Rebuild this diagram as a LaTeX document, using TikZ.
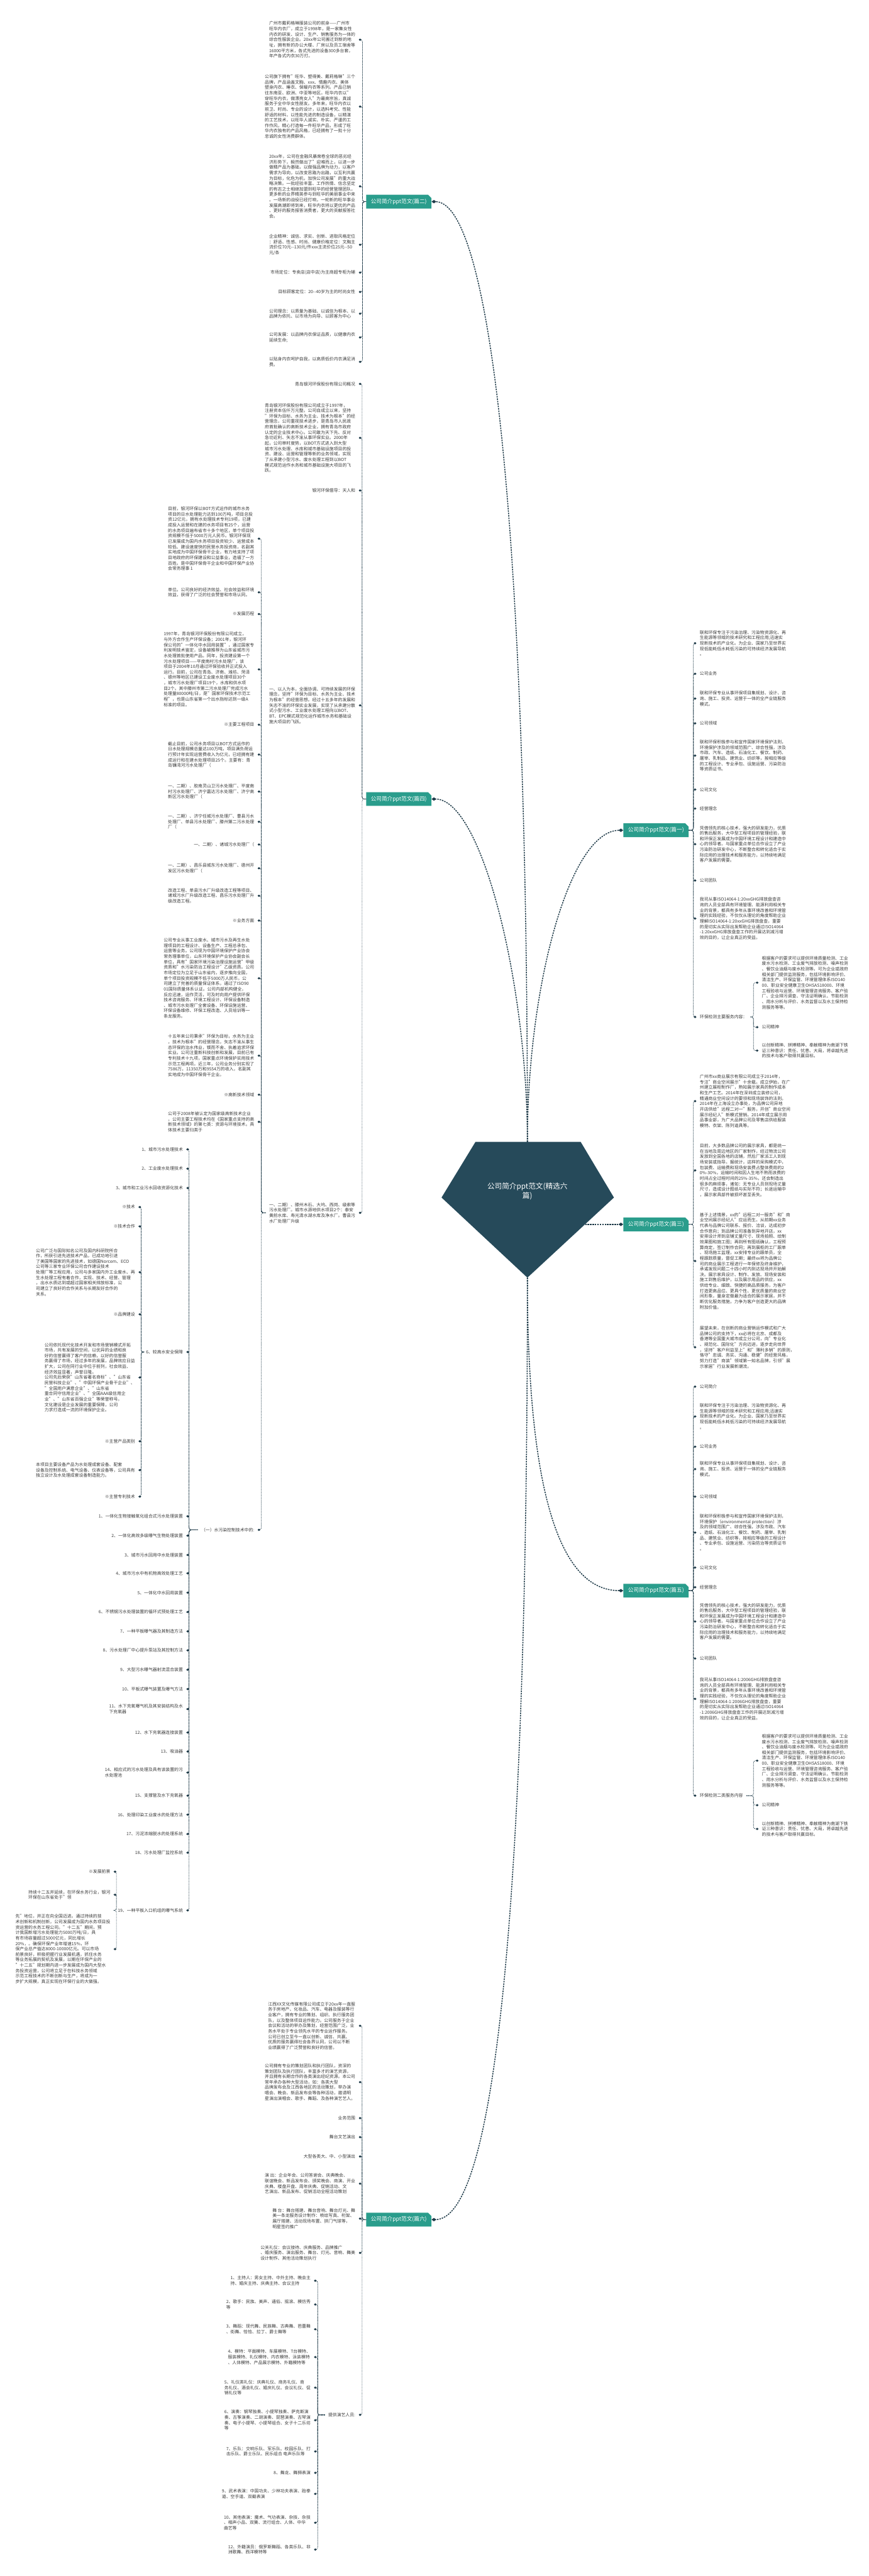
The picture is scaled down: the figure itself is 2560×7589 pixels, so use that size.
\documentclass[tikz,border=0pt]{standalone}
\usepackage{fontspec}
\setmainfont{Noto Sans CJK SC}
\usetikzlibrary{arrows.meta,shapes.misc}
\definecolor{hubfill}{HTML}{264A5A}
\definecolor{teal}{HTML}{2A9D8C}
\definecolor{wire}{HTML}{1E3A48}
\definecolor{ink}{HTML}{3A3A3A}
\tikzset{
  leaf/.style={inner sep=0pt, outer xsep=5pt, align=left, text=ink, font=\fontsize{6.35pt}{8pt}\selectfont},
  leafL/.style={leaf, anchor=east},
  leafR/.style={leaf, anchor=west},
  branch/.style={chamfered rectangle, chamfered rectangle corners=north east, chamfered rectangle xsep=2.5pt, chamfered rectangle ysep=2.5pt, fill=teal, text=white, inner xsep=4.5pt, minimum height=12pt, font=\fontsize{8pt}{9pt}\selectfont},
  hubtext/.style={align=center, text=white, font=\fontsize{10.8pt}{14pt}\selectfont},
  limb/.style={draw=wire, line width=1.4pt, dash pattern=on 2.2pt off 1.4pt, -{Diamond[length=7pt,width=5pt]}},
  twig/.style={draw=wire, line width=0.6pt, dash pattern=on 1.4pt off 0.9pt, rounded corners=3pt, -{Diamond[length=4pt,width=3.4pt]}}
}
\begin{document}
\begin{tikzpicture}[x=0.5pt,y=-0.5pt]
\useasboundingbox (0,0) rectangle (2560,7589);

% centre
\fill[hubfill] (1401,3364) -- (1711,3364) -- (1809,3528) -- (1554,3764) -- (1301,3528) -- cycle;
\node[hubtext] (hub) at (1554,3510) {公司简介ppt范文(精选六\\篇)};
\coordinate (hubN) at (1554,3364);
\coordinate (hubS) at (1554,3764);
\coordinate (hubE) at (1724,3607);

\node[branch] (p2) at (1175,594) {公司简介ppt范文(篇二)};
\node[branch] (p4) at (1175,2354) {公司简介ppt范文(篇四)};
\node[branch] (p1) at (1933,2446) {公司简介ppt范文(篇一)};
\node[branch] (p3) at (1933,3607) {公司简介ppt范文(篇三)};
\node[branch] (p5) at (1933,4686) {公司简介ppt范文(篇五)};
\node[branch] (p6) at (1175,6539) {公司简介ppt范文(篇六)};

\draw[limb] (hubN) .. controls (1554,1500) and (1440,594) .. (p2.east);
\draw[limb] (hubN) .. controls (1554,2900) and (1420,2354) .. (p4.east);
\draw[limb] (hubN) .. controls (1554,2900) and (1680,2446) .. (p1.west);
\draw[limb] (hubE) -- (p3.west);
\draw[limb] (hubS) .. controls (1554,4400) and (1650,4686) .. (p5.west);
\draw[limb] (hubS) .. controls (1554,5600) and (1460,6539) .. (p6.east);

% 篇二
\coordinate (s2) at (1068,594);
\node[leafL] (p2a) at (1057,117) {广州市戴莉格琳服装公司的前身——广州市\\旺华内衣厂，成立于1998年，是一家集女性\\内衣的研发、设计、生产、销售服务为一体的\\综合性服装企业。20xx年公司搬迁到新的地\\址，拥有新的办公大楼、厂房以及员工宿舍等\\16000平方米，各式先进的设备300多台套，\\年产各式内衣30万打。};
\node[leafL] (p2b) at (1057,314) {公司旗下拥有"旺华、塑得美、戴莉格琳"三个\\品牌，产品涵盖文胸、xxx、情趣内衣、美体\\塑身内衣、睡衣、保暖内衣等系列。产品已销\\往东南亚、欧洲、中亚等地区。旺华内衣以"\\穿旺华内衣，做漂亮女人"为最高宗旨，真诚\\服务于全中华女性朋友。多年来，旺华内衣以\\前卫、时尚、专业的设计，以选料考究、性能\\舒适的材料，以性能先进的制造设备，以精湛\\的工艺技术，以旺华人诚实、朴实、严谨的工\\作作风，精心打造每一件旺华产品，形成了旺\\华内衣独有的产品风格，已经拥有了一批十分\\忠诚的女性消费群体。};
\node[leafL] (p2c) at (1057,549) {20xx年，公司在金融风暴席卷全球的恶劣经\\济形势下，毅然做出了"迎难而上，以进一步\\做精产品为基础，以做强品牌为动力，以客户\\需求为导向，以改变思路为出路，以互利共赢\\为目标，化危为机，加快公司发展"的重大战\\略决策。一批经验丰富、工作热情、信念坚定\\的有志之士相继加盟到旺华的经营管理团队，\\更多新的业界精英参与到旺华的美丽事业中来\\。一场新的战役已经打响，一轮新的旺华事业\\发展高潮即将到来，旺华内衣将以更优的产品\\、更好的服务报答消费者，更大的贡献报答社\\会。};
\node[leafL] (p2d) at (1057,721) {企业精神：诚信、求实、创新、进取风格定位\\：舒适、性感、时尚、健康价格定位：文胸主\\流价位70元-{}-130元/件xxx主流价位25元-{}-50\\元/条};
\node[leafL] (p2e) at (1057,803) {市场定位：专卖店(店中店)为主商超专柜为辅};
\node[leafL] (p2f) at (1057,860) {目标顾客定位：20-{}-40岁为主的时尚女性};
\node[leafL] (p2g) at (1057,924) {公司理念：以质量为基础、以诚信为根本、以\\品牌为依托、以市场为向导、以顾客为中心};
\node[leafL] (p2h) at (1057,994) {公司发展：以品牌内衣保证品质，以健康内衣\\延续生命;};
\node[leafL] (p2i) at (1057,1066) {以贴身内衣呵护自我，以高质低价内衣满足消\\费。};
\foreach \c in {p2a,p2b,p2c,p2d,p2e,p2f,p2g,p2h,p2i}
  \draw[twig] (p2.west) -- (s2) |- (\c.east);

% 篇四
\coordinate (s4) at (1067,2354);
\node[leafL] (p4a) at (1057,1131) {青岛银河环保股份有限公司概况};
\node[leafL] (p4b) at (1057,1290) {青岛银河环保股份有限公司成立于1997年，\\注册资本伍仟万元整。公司自成立以来，坚持\\"环保为目标、水务为主业、技术为根本"的经\\营理念，公司重视技术进步，是青岛市人民政\\府首批确认的高新技术企业，拥有青岛市政府\\认定的企业技术中心。公司敢为天下先、反对\\急功近利、矢志不渝从事环保实业。2000年\\起，公司审时度势，以BOT方式进入到大型\\城市污水处理、水库和城市基础设施项目的投\\资、建设、运营和管理等新的业务领域，实现\\了从承建小型污水、废水处理工程到以BOT\\模式规范运作水务和城市基础设施大项目的飞\\跃。};
\node[leafL] (p4c) at (1057,1445) {银河环保倡导：天人和};
\node[leafL] (p4d) at (1057,2078) {一、以人为本，全面协调、可持续发展的环保\\理念，坚持"环保为目标、水务为主业、技术\\为根本"的经营思想。经过十五多年的发展和\\矢志不渝的环保实业发展，实现了从承建分散\\式小型污水、工业废水处理工程向以BOT、\\BT、EPC模式规范化运作城市水务和基础设\\施大项目的飞跃。};
\node[leafL] (p4e) at (1057,3573) {一、二期）、滕州木石、大坞、西岗、级索等\\污水处理厂。城市水源地供水项目2个：泰安\\黄前水库、寿光清水湖水库及净水厂。曹县污\\水厂处理厂升级};
\foreach \c in {p4a,p4b,p4c,p4d,p4e}
  \draw[twig] (p4.west) -- (s4) |- (\c.east);

\coordinate (s4e) at (770,3573);
\node[leafL] (q1) at (759,1587) {目前，银河环保以BOT方式运作的城市水务\\项目的日水处理能力达到100万吨，项目总投\\资12亿元，拥有水处理技术专利19项，已建\\成投入运营和在建的水务项目有25个，运营\\的水务项目遍布省市十多个地区，单个项目投\\资规模不低于5000万元人民币。银河环保现\\已发展成为国内水务项目投资较少、运营成本\\较低、建设速度快的民营水务投资商，名副其\\实地成为中国环保骨干企业，有力地支持了项\\目地政府的环保建设和公益事业，造福了一方\\百姓。是中国环保骨干企业和中国环保产业协\\会常务理事 1};
\node[leafL] (q2) at (759,1745) {单位。公司良好的经济效益、社会效益和环境\\效益，获得了广泛的社会赞誉和市场认同。};
\node[leafL] (q3) at (759,1809) {※发展历程};
\node[leafL] (q4) at (759,1972) {1997年，青岛银河环保股份有限公司成立，\\与外方合作生产环保设备；2001年，银河环\\保公司的"一体化中水回用装置"，通过国家专\\利发明技术鉴定，设备被推荐为山东省城市污\\水处理首批使用产品。同年，投资建设第一个\\污水处理项目——平度南村污水处理厂，该\\项目于2004年10月通过环保验收并正式投入\\运行。目前，公司在青岛、济南、潍坊、菏泽\\、德州等地区已建设工业废水处理项目30个\\，城市污水处理厂项目19个，水库和供水项\\目2个。其中滕州市第二污水处理厂完成污水\\处理量80000吨/日，是"国家环保技术示范工\\程"，也是山东省第一个出水指标达到一级A\\标准的项目。};
\node[leafL] (q5) at (759,2135) {※主要工程项目};
\node[leafL] (q6) at (759,2223) {截止目前，公司水务项目以BOT方式运作的\\日水处理规模总量达100万吨，项目满负荷运\\行预计年实现运营费收入为亿元，已经拥有建\\成运行和在建水处理项目25个。主要有：青\\岛镰湾河污水处理厂（};
\node[leafL] (q7) at (759,2332) {一、二期）、胶南灵山卫污水处理厂、平度南\\村污水处理厂、济宁嘉达污水处理厂、济宁高\\新区污水处理厂（};
\node[leafL] (q8) at (759,2421) {一、二期）、济宁任城污水处理厂、曹县污水\\处理厂、单县污水处理厂、滕州第二污水处理\\厂（};
\node[leafL] (q9) at (759,2488) {一、二期）、诸城污水处理厂（};
\node[leafL] (q10) at (759,2558) {一、二期）、昌乐县城东污水处理厂、德州开\\发区污水处理厂（};
\node[leafL] (q11) at (759,2639) {改造工程、单县污水厂升级改造工程等项目、\\诸城污水厂升级改造工程、昌乐污水处理厂升\\级改造工程。};
\node[leafL] (q12) at (759,2712) {※业务方面};
\node[leafL] (q13) at (759,2882) {公司专业从事工业废水、城市污水及再生水处\\理项目的工程设计、设备生产、工程总承包、\\运营等业务。公司现为中国环境保护产业协会\\常务理事单位，山东环境保护产业协会副会长\\单位，具有"国家环境污染治理设施运营"甲级\\资质和"水污染防治工程设计"乙级资质。公司\\市场定位为立足于山东省内，逐步推向全国，\\单个项目投资规模不低于5000万人民币。公\\司建立了完善的质量保证体系，通过了ISO90\\01国际质量体系认证。公司内部机构健全，\\反应迅速，运作灵活，可及时向用户提供环保\\技术咨询服务、环境工程设计、环保设备制造\\、城市污水处理厂全套设备、环保设施运营、\\环保设备维修、环保工程改造、人员培训等一\\条龙服务。};
\node[leafL] (q14) at (759,3110) {十五年来公司秉承"环保为目标，水务为主业\\，技术为根本"的经营理念，矢志不渝从事生\\态环保的治水伟业，锲而不舍、执着追求环保\\实业。公司注重新科技创新和发展，目前已有\\专利技术十九项，国家重点环境保护实用技术\\示范工程两项。近三年，公司业务分别实现了\\7586万，11350万和9554万的收入，名副其\\实地成为中国环保骨干企业。};
\node[leafL] (q15) at (759,3225) {※高新技术领域};
\node[leafL] (q16) at (759,3305) {公司于2008年被认定为国家级高新技术企业\\，公司主要工程技术均在《国家重点支持的高\\新技术领域》的第七类：资源与环境技术。具\\体技术主要归类于};
\node[leafL] (q17) at (759,4507) {（一）水污染控制技术中的:};
\foreach \c in {q1,q2,q3,q4,q5,q6,q7,q8,q9,q10,q11,q12,q13,q14,q15,q16,q17}
  \draw[twig] (p4e.west) -- (s4e) |- (\c.east);

\coordinate (s17) at (557,4507);
\node[leafL] (r1) at (549,3386) {1、城市污水处理技术};
\node[leafL] (r2) at (549,3443) {2、工业废水处理技术};
\node[leafL] (r3) at (549,3500) {3、城市和工业污水回收资源化技术};
\node[leafL] (r4) at (549,3983) {6、较高水安全保障};
\node[leafL] (t1) at (549,4467) {1、一体化生物接触氧化组合式污水处理装置};
\node[leafL] (t2) at (549,4524) {2、一体化高效多级曝气生物处理装置};
\node[leafL] (t3) at (549,4581) {3、城市污水回用中水处理装置};
\node[leafL] (t4) at (549,4635) {4、城市污水中有机物高效处理工艺};
\node[leafL] (t5) at (549,4692) {5、一体化中水回用装置};
\node[leafL] (t6) at (549,4749) {6、不锈钢污水处理装置的循环式预处理工艺};
\node[leafL] (t7) at (549,4806) {7、一种平板曝气器及其制造方法};
\node[leafL] (t8) at (549,4862) {8、污水处理厂中心提升泵站及其控制方法};
\node[leafL] (t9) at (549,4919) {9、大型污水曝气器射流混合装置};
\node[leafL] (t10) at (549,4976) {10、平板式曝气装置及曝气方法};
\node[leafL] (t11) at (549,5035) {11、水下充氧曝气机及其安装结构及水\\下充氧器};
\node[leafL] (t12) at (549,5104) {12、水下充氧器连接装置};
\node[leafL] (t13) at (549,5160) {13、吸油器};
\node[leafL] (t14) at (549,5222) {14、相应式的污水处理及具有该装置的污\\水处理池};
\node[leafL] (t15) at (549,5290) {15、支撑管及水下充氧器};
\node[leafL] (t16) at (549,5346) {16、处理印染工业废水的处理方法};
\node[leafL] (t17) at (549,5403) {17、污泥浓缩脱水的处理系统};
\node[leafL] (t18) at (549,5458) {18、污水处理厂监控系统};
\node[leafL] (t19) at (549,5628) {19、一种平板入口机组的曝气系统};
\foreach \c in {r1,r2,r3,r4,t1,t2,t3,t4,t5,t6,t7,t8,t9,t10,t11,t12,t13,t14,t15,t16,t17,t18,t19}
  \draw[twig] (q17.west) -- (s17) |- (\c.east);

\coordinate (s6b) at (416,3983);
\node[leafL] (u1) at (408,3556) {※技术};
\node[leafL] (u2) at (408,3613) {※技术合作};
\node[leafL] (u3) at (408,3748) {公司广泛与国际知名公司及国内科研院所合\\作，所获引进先进技术产品，已成功地引进\\了美国等国家的先进技术，如德国Norcem、ECO\\公司等三家专业环保公司合作建设技术\\处理厂等工程应用，公司与多家国内外工业废水、再\\生水处理工程有着合作，实现、技术、经营、管理\\，出水水质达到或超过国家相关排放标准，公\\司建立了良好的合作关系与长期友好合作的\\关系。};
\node[leafL] (u4) at (408,3872) {※品牌建设};
\node[leafL] (u5) at (408,4058) {公司依托现代化技术开发和市场营销模式开拓\\市场，共有发展的空间，以优异的业绩和良\\好的信誉赢得了客户的信赖，以好的信誉服\\务赢得了市场，经过多年的发展，品牌效应日益\\扩大，公司在同行业中位于前列，社会效益、\\经济效益显著，声誉日隆。\\公司先后荣获"山东省著名商标"、"山东省\\民营科技企业"、"中国环保产业骨干企业"、\\"全国用户满意企业"、"山东省\\重合同守信用企业"、"全国AAA级信用企\\业"、"山东省百强企业"等荣誉称号。\\文化建设是企业发展的重要保障，公司\\力求打造成一流的环境保护企业。};
\node[leafL] (u6) at (408,4246) {※主营产品类别};
\node[leafL] (u7) at (408,4331) {本项目主要设备产品为水处理成套设备、配套\\设备及控制系统、电气设备、仪表设备等，公司具有\\独立设计及水处理成套设备制造能力。};
\node[leafL] (u8) at (408,4409) {※主营专利技术};
\foreach \c in {u1,u2,u3,u4,u5,u6,u7,u8}
  \draw[twig] (r4.west) -- (s6b) |- (\c.east);

\coordinate (s19) at (343,5628);
\node[leafL] (v1) at (335,5514) {※发展前景};
\node[leafL] (v2) at (335,5582) {持续十二五并延续，在环保水务行业，银河\\环保在山东省处于"领};
\node[leafL] (v3) at (335,5742) {先"地位，并正在向全国迈进。通过持续的技\\术创新和机制创新，公司发展成为国内水务项目投\\资运营的水务工程公司。"十二五"期间，预\\计我国新增污水处理能力5000万吨/日，具\\有市场容量超过5000亿元，同比增长\\20\%，。确保环保产业年增速15\%，环\\保产业总产值达8000-10000亿元。可以市场\\前景良好，积极把握行业发展机遇，抓住水务\\等业务拓展的契机及发展，以期在环保产业的\\"十二五"规划期内进一步发展成为国内大型水\\务投资运营，公司将立足于在科技水务领域\\示范工程技术的不断创新与生产，将成为一\\步扩大规模，真正实现在环保行业的大做强。};
\foreach \c in {v1,v2,v3}
  \draw[twig] (t19.west) -- (s19) |- (\c.east);

% 篇一
\coordinate (s1) at (2043,2446);
\node[leafR] (p1a) at (2052,1895) {联和环保专注于污染治理、污染物资源化、再\\生能源等领域的技术研究和工程应用;迅速实\\现新技术的产业化。为企业、国家乃至世界实\\现低能耗低水耗低污染的可持续经济发展导航\\。};
\node[leafR] (p1b) at (2052,1985) {公司业务};
\node[leafR] (p1c) at (2052,2058) {联和环保专业从事环保项目集规划、设计、咨\\询、施工、投资、运营于一体的全产业链服务\\模式。};
\node[leafR] (p1d) at (2052,2131) {公司领域};
\node[leafR] (p1e) at (2052,2226) {联和环保积极参与和宣传国家环境保护法则，\\环境保护涉及的领域范围广、综合性强，涉及\\市政、汽车、造纸、石油化工、餐饮、制药、\\屠宰、乳制品、建筑业、纺织等，按相应等级\\的工程设计、专业承包、设施运营、污染防治\\等资质证书。};
\node[leafR] (p1f) at (2052,2326) {公司文化};
\node[leafR] (p1g) at (2052,2382) {经营理念};
\node[leafR] (p1h) at (2052,2487) {凭借领先的核心技术，强大的研发能力，优质\\的售后服务，大中型工程项目的管理经验，联\\和环保正发展成为中国环境工程设计和建造中\\心的领导者。与国家重点单位合作设立了产业\\污染防治研发中心，不断整合和转化适合于实\\际应用的治理技术和服务能力，以持续地满足\\客户发展的需要。};
\node[leafR] (p1i) at (2052,2594) {公司团队};
\node[leafR] (p1j) at (2052,2706) {我司从事ISO14064-1:20xxGHG排放盘查咨\\询的人员全部具有环境管理、能源利用相关专\\业的背景，都具有多年从事环境改善和环境管\\理的实践经验，不仅仅从理论的角度帮助企业\\理解ISO14064-1:20xxGHG排放盘查，重要\\的是切实从实际出发帮助企业通过ISO14064\\-1:20xxGHG排放盘查工作的开展达到减污增\\效的目的，让企业真正的受益。};
\node[leafR] (p1k) at (2052,2996) {环保检测主要服务内容：};
\foreach \c in {p1a,p1b,p1c,p1d,p1e,p1f,p1g,p1h,p1i,p1j,p1k}
  \draw[twig] (p1.east) -- (s1) |- (\c.west);

\coordinate (s1k) at (2220,2996);
\node[leafR] (p1k1) at (2235,2895) {根据客户的要求可以提供环境质量检测、工业\\废水污水检测、工业废气排放检测、噪声检测\\、餐饮业油烟与废水检测等。可为企业或政府\\相关部门提供监测服务，包括环境影响评价、\\清洁生产、环保监管、环境管理体系ISO140\\00、职业安全健康卫生OHSAS18000、环境\\工程验收与运营、环境管理咨询服务、客户验\\厂、企业排污调查、守法证明确认、节能检测\\、用水分析与评价、水务监督以及水土保持检\\测服务等等。};
\node[leafR] (p1k2) at (2235,3026) {公司精神};
\node[leafR] (p1k3) at (2235,3095) {以创新精神、拼搏精神、奉献精神为南湖下铁\\证三种意识：责任、忧患、大局，将卓越先进\\的技术与客户取得共赢目标。};
\foreach \c in {p1k1,p1k2,p1k3}
  \draw[twig] (p1k.east) -- (s1k) |- (\c.west);

% 篇三
\coordinate (s3) at (2043,3607);
\node[leafR] (p3a) at (2052,3244) {广州市xx商业展示有限公司成立于2014年，\\专注"商业空间展示"十余载。成立伊始，在广\\州建立展柜制作厂，熟知展示家具的制作成本\\和生产工艺。2014年在深圳成立装修公司，\\精通商业空间设计的要领和现场装饰的法则。\\2014年在上海设立办事处，为品牌公司异地\\开店供给"远程二对一"服务，开创"商业空间\\展示经纪人"新模式营销。2014年成立展示用\\品事业部，为广大品牌公司及零售店供给服装\\模特、衣架、陈列道具等。};
\node[leafR] (p3b) at (2052,3448) {目前，大多数品牌公司的展示家具，都是统一\\在当地及周边地区的厂家制作，经过物流公司\\发放到全国各地的店铺，然后厂家派工人到现\\场安装或指导。据统计，这样的采购模式中，\\包装费、运输费和现场安装费占整体费用的2\\0\%-30\%，运输时间和因人生地不熟而浪费的\\时间占全过程时间的25\%-35\%，还会制造出\\很多的麻烦事，诸如：无专业人员到现场丈量\\尺寸，造成设计图纸与实际不符；长途运输中\\，展示家具部件被损坏甚至丢失。};
\node[leafR] (p3c) at (2052,3715) {基于上述情景，xx的"远程二对一服务"和"商\\业空间展示经纪人"应运而生。从前期xx业务\\代表与品牌公司联系、报价、洽谈，达成初步\\合作意向；到品牌公司准备到异地开店，xx\\安排设计师到店铺丈量尺寸、现场拍照、绘制\\效果图和施工图；再到所有图纸确认，工程预\\算商定，签订制作合同；再到展柜的工厂跟单\\、现场施工监理，xx安排专业的跟单员，全\\程跟踪质量，督促工期；最终xx将为品牌公\\司的商业展示工程进行一年保修及终身维护，\\承诺发现问题二十四小时内到达现场并开始解\\决。展示家具设计、制作、发放、现场安装和\\施工到售后维护，以及展示用品的供应，xx\\供给专业、细致、快捷的高品质服务，为客户\\打造更高品位、更具个性、更优质量的商业空\\间形象，量身定做最为适合的展示家居，并不\\断优化服务措施，力争为客户创造更大的品牌\\附加价值。};
\node[leafR] (p3d) at (2052,3969) {展望未来，在创新的商业营销运作模式和广大\\品牌公司的支持下，xx必将在北京、成都及\\香港等全国重大城市成立分公司，向"专业化\\、规范化、国际化"方向迈进，逐步走向世界\\，坚持"客户利益至上"和"薄利多销"的原则，\\恪守"忠诚、务实、沟通、稳健"的经营风格，\\努力打造"商装"领域第一知名品牌，引领"展\\示家居"行业发展新潮流。};
\foreach \c in {p3a,p3b,p3c,p3d}
  \draw[twig] (p3.east) -- (s3) |- (\c.west);

% 篇五
\coordinate (s5) at (2043,4686);
\node[leafR] (p5a) at (2052,4085) {公司简介};
\node[leafR] (p5b) at (2052,4173) {联和环保专注于污染治理、污染物资源化、再\\生能源等领域的技术研究和工程应用;迅速实\\现新技术的产业化。为企业、国家乃至世界实\\现低能耗低水耗低污染的可持续经济发展导航\\。};
\node[leafR] (p5c) at (2052,4262) {公司业务};
\node[leafR] (p5d) at (2052,4328) {联和环保专业从事环保项目集规划、设计、咨\\询、施工、投资、运营于一体的全产业链服务\\模式。};
\node[leafR] (p5e) at (2052,4409) {公司领域};
\node[leafR] (p5f) at (2052,4515) {联和环保积极参与和宣传国家环境保护法则，\\环境保护（environmental protection）涉\\及的领域范围广、综合性强，涉及市政、汽车\\、造纸、石油化工、餐饮、制药、屠宰、乳制\\品、建筑业、纺织等，按相应等级的工程设计\\、专业承包、设施运营、污染防治等资质证书\\。};
\node[leafR] (p5g) at (2052,4618) {公司文化};
\node[leafR] (p5h) at (2052,4676) {经营理念};
\node[leafR] (p5i) at (2052,4777) {凭借领先的核心技术，强大的研发能力，优质\\的售后服务，大中型工程项目的管理经验，联\\和环保正发展成为中国环境工程设计和建造中\\心的领导者。与国家重点单位合作设立了产业\\污染防治研发中心，不断整合和转化适合于实\\际应用的治理技术和服务能力，以持续地满足\\客户发展的需要。};
\node[leafR] (p5j) at (2052,4886) {公司团队};
\node[leafR] (p5k) at (2052,5005) {我司从事ISO14064-1:2006GHG排放盘查咨\\询的人员全部具有环境管理、能源利用相关专\\业的背景，都具有多年从事环境改善和环境管\\理的实践经验，不仅仅从理论的角度帮助企业\\理解ISO14064-1:2006GHG排放盘查，重要\\的是切实从实际出发帮助企业通过ISO14064\\-1:2006GHG排放盘查工作的开展达到减污增\\效的目的，让企业真正的受益。};
\node[leafR] (p5l) at (2052,5290) {环保检测二类服务内容};
\foreach \c in {p5a,p5b,p5c,p5d,p5e,p5f,p5g,p5h,p5i,p5j,p5k,p5l}
  \draw[twig] (p5.east) -- (s5) |- (\c.west);

\coordinate (s5l) at (2220,5290);
\node[leafR] (p5l1) at (2235,5187) {根据客户的要求可以提供环境质量检测、工业\\废水污水检测、工业废气排放检测、噪声检测\\、餐饮业油烟与废水检测等。可为企业或政府\\相关部门提供监测服务，包括环境影响评价、\\清洁生产、环保监管、环境管理体系ISO140\\00、职业安全健康卫生OHSAS18000、环境\\工程验收与运营、环境管理咨询服务、客户验\\厂、企业排污调查、守法证明确认、节能检测\\、用水分析与评价、水务监督以及水土保持检\\测服务等等。};
\node[leafR] (p5l2) at (2235,5318) {公司精神};
\node[leafR] (p5l3) at (2235,5388) {以创新精神、拼搏精神、奉献精神为南湖下铁\\证三种意识：责任、忧患、大局，将卓越先进\\的技术与客户取得共赢目标。};
\foreach \c in {p5l1,p5l2,p5l3}
  \draw[twig] (p5l.east) -- (s5l) |- (\c.west);

% 篇六
\coordinate (s6) at (1067,6539);
\node[leafL] (p6a) at (1057,5968) {江西XX文化传媒有限公司成立于20xx年一直服\\务于房地产、化妆品、汽车、电器及服装等行\\业客户，拥有专业的策划、组织、执行服务团\\队，以及整体项目运作能力。公司服务于企业\\会议和活动的举办及策划，经营范围广泛，业\\务水平处于专业领先水平的专业运作服务。\\公司已创立至今一直以创新、诚信、共赢、\\优质的服务赢得社会各界认同，公司以不断\\业绩赢得了广泛赞誉和良好的信誉。};
\node[leafL] (p6b) at (1057,6134) {公司拥有专业的策划团队和执行团队，资深的\\策划团队及执行团队，丰富多才的演艺资源，\\并且拥有长期合作的各类演出经纪资源。本公司\\常年承办各种大型活动，如：各类大型\\品牌发布会及江西各地区的活动策划，举办演\\唱会、晚会、新品发布会等各种活动，邀请明\\星演出演唱会、歌手、舞蹈、及各种演艺艺人。};
\node[leafL] (p6c) at (1057,6240) {业务范围};
\node[leafL] (p6d) at (1057,6296) {舞台文艺演出};
\node[leafL] (p6e) at (1057,6353) {大型各类大、中、小型演出};
\node[leafL] (p6f) at (1057,6433) {演 出：企业年会、公司答谢会、庆典晚会、\\联谊晚会、新品发布会、颁奖晚会、商演、开业\\庆典、楼盘开盘、周年庆典、促销活动、文\\艺演出、新品发布、促销活动全程活动策划};
\node[leafL] (p6g) at (1057,6536) {舞 台：舞台搭建、舞台音响、舞台灯光、舞\\美一条龙服务设计制作：喷绘写真、桁架、\\展厅搭建、活动现场布置、拱门气球等，\\明星签约推广};
\node[leafL] (p6h) at (1057,6637) {公关礼仪：会议接待、庆典服务、品牌推广\\、婚庆服务、演出服务、舞台、灯光、音响、舞美\\设计制作、其他活动策划执行};
\node[leafL] (p6i) at (1057,7114) {提供演艺人员:};
\foreach \c in {p6a,p6b,p6c,p6d,p6e,p6f,p6g,p6h,p6i}
  \draw[twig] (p6.west) -- (s6) |- (\c.east);

\coordinate (s6i) at (936,7114);
\node[leafL] (w1) at (925,6719) {1、主持人：男女主持、中外主持、晚会主\\持、婚庆主持、庆典主持、会议主持};
\node[leafL] (w2) at (925,6789) {2、歌手：民族、美声、通俗、摇滚、模仿秀\\等};
\node[leafL] (w3) at (925,6862) {3、舞蹈：现代舞、民族舞、古典舞、芭蕾舞\\、街舞、恰恰、拉丁、爵士舞等};
\node[leafL] (w4) at (925,6944) {4、模特：平面模特、车展模特、T台模特、\\服装模特、礼仪模特、内衣模特、泳装模特\\、人体模特、产品展示模特、外籍模特等};
\node[leafL] (w5) at (925,7034) {5、礼仪类礼仪：庆典礼仪、商务礼仪、商\\务礼仪、酒会礼仪、婚庆礼仪、会议礼仪、促\\销礼仪等};
\node[leafL] (w6) at (925,7130) {6、演奏：钢琴独奏、小提琴独奏、萨克斯演\\奏、古筝演奏、二胡演奏、琵琶演奏、古琴演\\奏、电子小提琴、小提琴组合、女子十二乐坊\\等};
\node[leafL] (w7) at (925,7222) {7、乐队：交响乐队、军乐队、校园乐队、打\\击乐队、爵士乐队、民乐组合 电声乐队等};
\node[leafL] (w8) at (925,7285) {8、舞龙、舞狮表演};
\node[leafL] (w9) at (925,7347) {9、武术表演：中国功夫、少林功夫表演、跆拳\\道、空手道、双截表演};
\node[leafL] (w10) at (925,7432) {10、其他表演：魔术、气功表演、杂技、杂技\\、相声小品、双簧、流行组合、人体、中华\\曲艺等};
\node[leafL] (w11) at (925,7511) {12、外籍演员：俄罗斯舞蹈、各类乐队、非\\洲歌舞、西洋模特等};
\foreach \c in {w1,w2,w3,w4,w5,w6,w7,w8,w9,w10,w11}
  \draw[twig] (p6i.west) -- (s6i) |- (\c.east);
\end{tikzpicture}
\end{document}
